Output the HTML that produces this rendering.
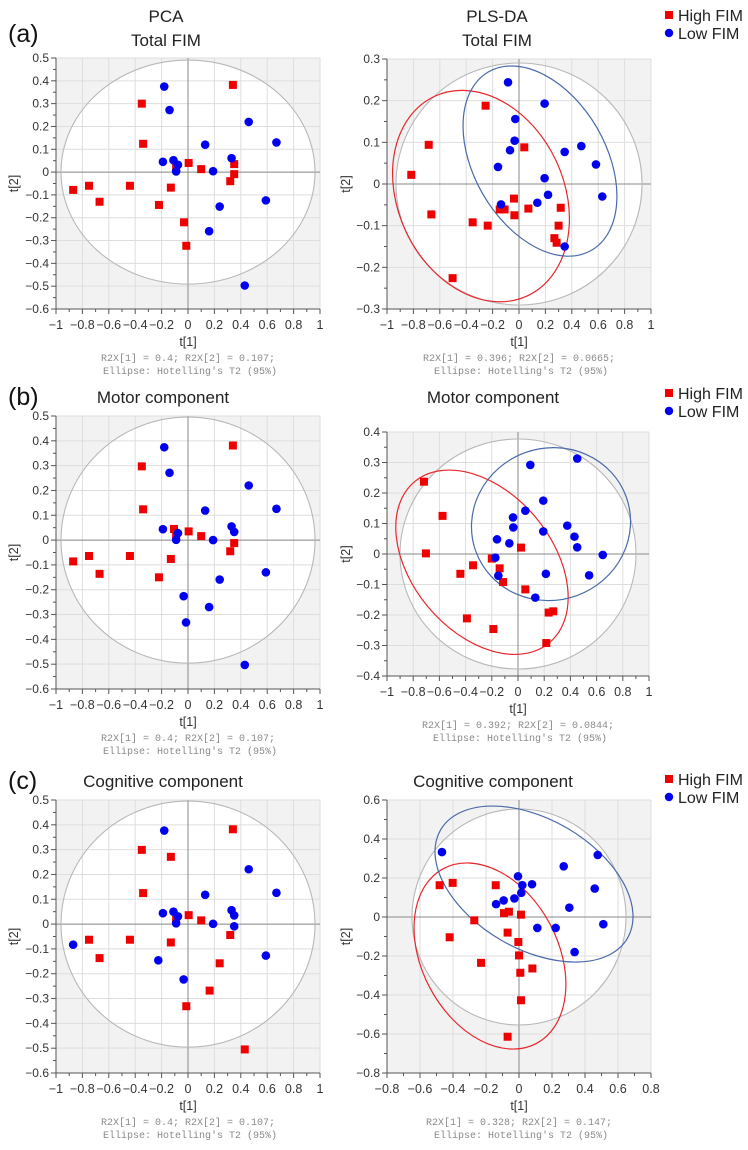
<!DOCTYPE html>
<html><head><meta charset="utf-8"><style>
html,body{margin:0;padding:0;background:#fff;}
svg{display:block;font-family:"Liberation Sans",sans-serif;}
</style></head><body>
<svg id="fig" width="748" height="1150" viewBox="0 0 748 1150" xmlns="http://www.w3.org/2000/svg">
<g font-size="25" fill="#111">
<text x="8" y="42">(a)</text>
<text x="8" y="405">(b)</text>
<text x="8" y="789">(c)</text>
</g>
<g font-size="17" fill="#222" text-anchor="middle">
<text x="166" y="22">PCA</text>
<text x="166" y="46">Total FIM</text>
<text x="497" y="22">PLS-DA</text>
<text x="497" y="46">Total FIM</text>
<text x="163" y="403">Motor component</text>
<text x="493" y="403">Motor component</text>
<text x="163" y="787">Cognitive component</text>
<text x="493" y="787">Cognitive component</text>
</g>
<g font-size="16" fill="#222">
<g>
<rect x="665" y="11" width="8" height="8" fill="#ee0000"/>
<text x="678" y="21">High FIM</text>
<circle cx="669" cy="33" r="4.2" fill="#0000ee"/>
<text x="678" y="39">Low FIM</text>
</g>
<g>
<rect x="665" y="389" width="8" height="8" fill="#ee0000"/>
<text x="678" y="399">High FIM</text>
<circle cx="669" cy="411" r="4.2" fill="#0000ee"/>
<text x="678" y="417">Low FIM</text>
</g>
<g>
<rect x="665" y="775" width="8" height="8" fill="#ee0000"/>
<text x="678" y="785">High FIM</text>
<circle cx="669" cy="797" r="4.2" fill="#0000ee"/>
<text x="678" y="803">Low FIM</text>
</g>
</g>
</svg>
<script>
// ---- data: PCA Total FIM
var pcaA_highX=[-0.87,-0.75,-0.67,-0.44,-0.35,-0.34,-0.22,-0.13,-0.09,0.005,0.10,-0.03,-0.013,0.34,0.35,0.35,0.32];
var pcaA_highY=[-0.078,-0.06,-0.13,-0.06,0.30,0.124,-0.144,-0.068,0.02,0.04,0.013,-0.22,-0.323,0.382,0.035,-0.009,-0.04];
var pcaA_lowX=[-0.18,-0.14,-0.19,-0.11,-0.076,-0.09,0.13,0.19,0.33,0.46,0.67,0.59,0.24,0.16,0.43];
var pcaA_lowY=[0.375,0.272,0.045,0.052,0.032,0.003,0.12,0.004,0.061,0.22,0.13,-0.124,-0.151,-0.259,-0.497];
// ---- data: PLS-DA Total FIM
var plsA_highX=[-0.816,-0.684,-0.664,-0.503,-0.351,-0.253,-0.237,-0.146,-0.109,-0.038,-0.035,0.04,0.071,0.316,0.30,0.268,0.285];
var plsA_highY=[0.022,0.094,-0.073,-0.226,-0.092,0.188,-0.1,-0.061,-0.061,-0.035,-0.075,0.088,-0.059,-0.057,-0.1,-0.13,-0.141];
var plsA_lowX=[-0.083,0.194,-0.028,-0.033,-0.068,-0.159,0.346,0.472,0.583,0.194,0.22,0.139,-0.136,0.631,0.346];
var plsA_lowY=[0.244,0.193,0.156,0.104,0.081,0.041,0.077,0.091,0.047,0.014,-0.026,-0.045,-0.049,-0.03,-0.15];
// ---- data: PCA Motor
var pcaB_highX=[-0.87,-0.75,-0.67,-0.44,-0.35,-0.34,-0.22,-0.13,-0.106,0.005,0.10,0.34,0.35,0.32,-0.09];
var pcaB_highY=[-0.086,-0.064,-0.136,-0.064,0.297,0.124,-0.15,-0.076,0.045,0.035,0.016,0.381,-0.012,-0.045,0.02];
var pcaB_lowX=[-0.18,-0.14,-0.19,-0.076,-0.09,0.13,0.19,0.33,0.35,0.46,0.67,0.59,0.24,-0.033,-0.015,0.16,0.43];
var pcaB_lowY=[0.374,0.271,0.044,0.028,0.001,0.119,0.0,0.055,0.033,0.22,0.126,-0.13,-0.159,-0.226,-0.332,-0.27,-0.503];
// ---- data: PLS-DA Motor
var plsB_highX=[-0.718,-0.576,-0.703,-0.44,-0.343,-0.2,-0.14,-0.114,0.023,0.056,-0.39,-0.188,0.234,0.269,0.216];
var plsB_highY=[0.237,0.125,0.002,-0.065,-0.037,-0.015,-0.047,-0.092,0.021,-0.116,-0.211,-0.246,-0.192,-0.188,-0.292];
var plsB_lowX=[0.094,0.452,0.193,0.056,-0.038,-0.036,-0.16,-0.066,0.193,0.376,0.431,0.452,0.647,0.543,0.213,-0.173,-0.15,0.132];
var plsB_lowY=[0.292,0.313,0.175,0.142,0.12,0.087,0.048,0.035,0.074,0.093,0.057,0.022,-0.003,-0.07,-0.065,-0.012,-0.071,-0.143];
// ---- data: PCA Cognitive
var pcaC_highX=[-0.75,-0.67,-0.44,-0.35,-0.34,-0.13,-0.13,-0.09,0.005,0.10,0.34,0.32,0.24,0.164,-0.013,0.43];
var pcaC_highY=[-0.063,-0.137,-0.063,0.299,0.125,0.271,-0.074,0.017,0.036,0.015,0.382,-0.044,-0.158,-0.268,-0.331,-0.505];
var pcaC_lowX=[-0.87,-0.18,-0.19,-0.11,-0.076,-0.09,0.13,0.19,0.33,0.35,0.35,0.46,0.67,0.59,-0.225,-0.033];
var pcaC_lowY=[-0.083,0.377,0.044,0.05,0.031,0.003,0.118,0.001,0.056,0.035,-0.009,0.221,0.126,-0.127,-0.146,-0.223];
// ---- data: PLS-DA Cognitive
var plsC_highX=[-0.481,-0.402,-0.141,-0.42,-0.271,-0.23,-0.091,-0.061,0.012,-0.069,-0.004,0,0.008,0.081,0.012,-0.069];
var plsC_highY=[0.163,0.175,0.163,-0.104,-0.017,-0.235,0.02,0.027,0.012,-0.08,-0.128,-0.197,-0.286,-0.264,-0.427,-0.614];
var plsC_lowX=[-0.467,-0.006,0.02,0.079,0.014,-0.028,-0.093,-0.139,0.271,0.477,0.459,0.305,0.511,0.111,0.222,0.337];
var plsC_lowY=[0.333,0.209,0.163,0.168,0.124,0.095,0.085,0.066,0.26,0.318,0.146,0.048,-0.037,-0.056,-0.056,-0.18];
// ---- ellipse centres (data units)
var plsA_ellipseCenters=[[-0.288,-0.029],[0.159,0.055]];
var plsB_ellipseCenters=[[-0.275,-0.027],[0.252,0.098]];
var plsC_ellipseCenters=[[-0.176,-0.2],[0.091,0.169]];

var NS="http://www.w3.org/2000/svg";
var svg=document.getElementById('fig');
function mk(tag,attrs,parent){var e=document.createElementNS(NS,tag);for(var k in attrs)e.setAttribute(k,attrs[k]);(parent||svg).appendChild(e);return e;}
function fmt(v){var s=(Math.round(v*100)/100).toString();if(Math.abs(v)<1e-9)return "0";return s.replace('-','\u2212');}

function panel(c){
  var g=mk('g',{});
  
  
  function sx(v){return c.px0+(v-c.xmin)/(c.xmax-c.xmin)*(c.px1-c.px0);}
  function sy(v){return c.py0+(c.ymax-v)/(c.ymax-c.ymin)*(c.py1-c.py0);}
  var L=c.px0,R=c.px1,T=c.py0,B=c.py1;
  var bg=mk('rect',{x:L,y:T,width:R-L,height:B-T,fill:'#f2f2f2'},g);
  
  
  var wc=mk('ellipse',{cx:sx(0),cy:sy(0),rx:c.grx,ry:c.gry,fill:'#fff'},g);
  
  
  var xt=[],yt=[];
  for(var v=c.xmin;v<=c.xmax+1e-9;v+=c.xstep)xt.push(Math.round(v*100)/100);
  for(var v=c.ymin;v<=c.ymax+1e-9;v+=c.ystep)yt.push(Math.round(v*100)/100);
  xt.forEach(function(v){var l=mk('line',{x1:sx(v),x2:sx(v),y1:T,y2:B,stroke:'#dedede','stroke-width':1},g);});
  yt.forEach(function(v){var l=mk('line',{x1:L,x2:R,y1:sy(v),y2:sy(v),stroke:'#dedede','stroke-width':1},g);});
  var z1=mk('line',{x1:sx(0),x2:sx(0),y1:T,y2:B,stroke:'#8a8a8a','stroke-width':1},g);
  
  
  var z2=mk('line',{x1:L,x2:R,y1:sy(0),y2:sy(0),stroke:'#8a8a8a','stroke-width':1},g);
  
  
  var ge=mk('ellipse',{cx:sx(0),cy:sy(0),rx:c.grx,ry:c.gry,fill:'none',stroke:'#b8b8b8','stroke-width':1.1},g);
  
  
  if(c.ell){
    var cols=['#e8262b','#4a6aa8'];var nm=['high-fim-ellipse','low-fim-ellipse'];
    c.ell.forEach(function(e,i){var p=c.ellShape[i];var x=sx(e[0]),y=sy(e[1]);
      var el=mk('ellipse',{cx:x,cy:y,rx:p[0],ry:p[1],transform:'rotate('+p[2]+' '+x+' '+y+')',fill:'none',stroke:cols[i],'stroke-width':1.2},g);
      
      });
  }
  var ax=mk('line',{x1:L,x2:L,y1:T,y2:B,stroke:'#555','stroke-width':1},g);
  
  
  var bx=mk('line',{x1:L,x2:R,y1:B,y2:B,stroke:'#555','stroke-width':1},g);
  
  
  for(var v=c.xmin;v<=c.xmax+1e-9;v+=c.xstep/2){var maj=Math.abs(Math.round(v/c.xstep)*c.xstep-v)<1e-6;
    var t=mk('line',{x1:sx(v),x2:sx(v),y1:B,y2:B+(maj?5:3),stroke:'#555'},g);}
  for(var v=c.ymin;v<=c.ymax+1e-9;v+=c.ystep/2){var maj=Math.abs(Math.round(v/c.ystep)*c.ystep-v)<1e-6;
    var t=mk('line',{x1:L-(maj?5:3),x2:L,y1:sy(v),y2:sy(v),stroke:'#555'},g);}
  xt.forEach(function(v){var t=mk('text',{x:sx(v),y:B+20,'font-size':12.5,fill:'#333','text-anchor':'middle'},g);t.textContent=fmt(v);});
  yt.forEach(function(v){var t=mk('text',{x:L-7,y:sy(v)+4,'font-size':12,fill:'#333','text-anchor':'end'},g);t.textContent=fmt(v);});
  var xl=mk('text',{x:(L+R)/2,y:B+37,'font-size':12.5,fill:'#333','text-anchor':'middle'},g);xl.textContent='t[1]';
  
  
  var yx=c.ylabX,yy=(T+B)/2;
  var yl=mk('text',{x:yx,y:yy,'font-size':12.5,fill:'#333','text-anchor':'middle',transform:'rotate(-90 '+yx+' '+yy+')'},g);yl.textContent='t[2]';
  
  
  var n1=mk('text',{x:(L+R)/2,y:B+52,'font-size':10,fill:'#8a8a8a','text-anchor':'middle','font-family':'Liberation Mono, monospace'},g);n1.textContent=c.note;
  
  
  var n2=mk('text',{x:(L+R)/2+2,y:B+65,'font-size':10,fill:'#8a8a8a','text-anchor':'middle','font-family':'Liberation Mono, monospace'},g);n2.textContent="Ellipse: Hotelling's T2 (95%)";
  
  
  c.hx.forEach(function(v,i){var r=mk('rect',{x:sx(v)-4,y:sy(c.hy[i])-4,width:8,height:8,fill:'#ee0000'},g);
    
    });
  c.lx.forEach(function(v,i){var r=mk('circle',{cx:sx(v),cy:sy(c.ly[i]),r:4.3,fill:'#0000ee'},g);
    
    });
}
panel({name:'pca-total-fim',px0:56,px1:320,xmin:-1,xmax:1,xstep:0.2,py0:58,py1:309,ymin:-0.6,ymax:0.5,ystep:0.1,grx:127,gry:112,ylabX:18,hx:pcaA_highX,hy:pcaA_highY,lx:pcaA_lowX,ly:pcaA_lowY,note:'R2X[1] = 0.4; R2X[2] = 0.107;'});
panel({name:'plsda-total-fim',px0:387,px1:651,xmin:-1,xmax:1,xstep:0.2,py0:59,py1:309,ymin:-0.3,ymax:0.3,ystep:0.1,grx:123,gry:121,ylabX:350,hx:plsA_highX,hy:plsA_highY,lx:plsA_lowX,ly:plsA_lowY,ell:plsA_ellipseCenters,ellShape:[[110,83,65],[103,66,60]],note:'R2X[1] = 0.396; R2X[2] = 0.0665;'});
panel({name:'pca-motor',px0:56,px1:320,xmin:-1,xmax:1,xstep:0.2,py0:416,py1:689,ymin:-0.6,ymax:0.5,ystep:0.1,grx:127,gry:123,ylabX:18,hx:pcaB_highX,hy:pcaB_highY,lx:pcaB_lowX,ly:pcaB_lowY,note:'R2X[1] = 0.4; R2X[2] = 0.107;'});
panel({name:'plsda-motor',px0:387,px1:649,xmin:-1,xmax:1,xstep:0.2,py0:432,py1:676,ymin:-0.4,ymax:0.4,ystep:0.1,grx:118,gry:115,ylabX:350,hx:plsB_highX,hy:plsB_highY,lx:plsB_lowX,ly:plsB_lowY,ell:plsB_ellipseCenters,ellShape:[[105,70,50],[80,76,-20]],note:'R2X[1] = 0.392; R2X[2] = 0.0844;'});
panel({name:'pca-cognitive',px0:56,px1:320,xmin:-1,xmax:1,xstep:0.2,py0:800,py1:1073,ymin:-0.6,ymax:0.5,ystep:0.1,grx:127,gry:123,ylabX:18,hx:pcaC_highX,hy:pcaC_highY,lx:pcaC_lowX,ly:pcaC_lowY,note:'R2X[1] = 0.4; R2X[2] = 0.107;'});
panel({name:'plsda-cognitive',px0:387,px1:651,xmin:-0.8,xmax:0.8,xstep:0.2,py0:800,py1:1073,ymin:-0.8,ymax:0.6,ystep:0.2,grx:107,gry:108,ylabX:350,hx:plsC_highX,hy:plsC_highY,lx:plsC_lowX,ly:plsC_lowY,ell:plsC_ellipseCenters,ellShape:[[99,68,62],[108,65,30]],note:'R2X[1] = 0.328; R2X[2] = 0.147;'});
</script>
</body></html>
